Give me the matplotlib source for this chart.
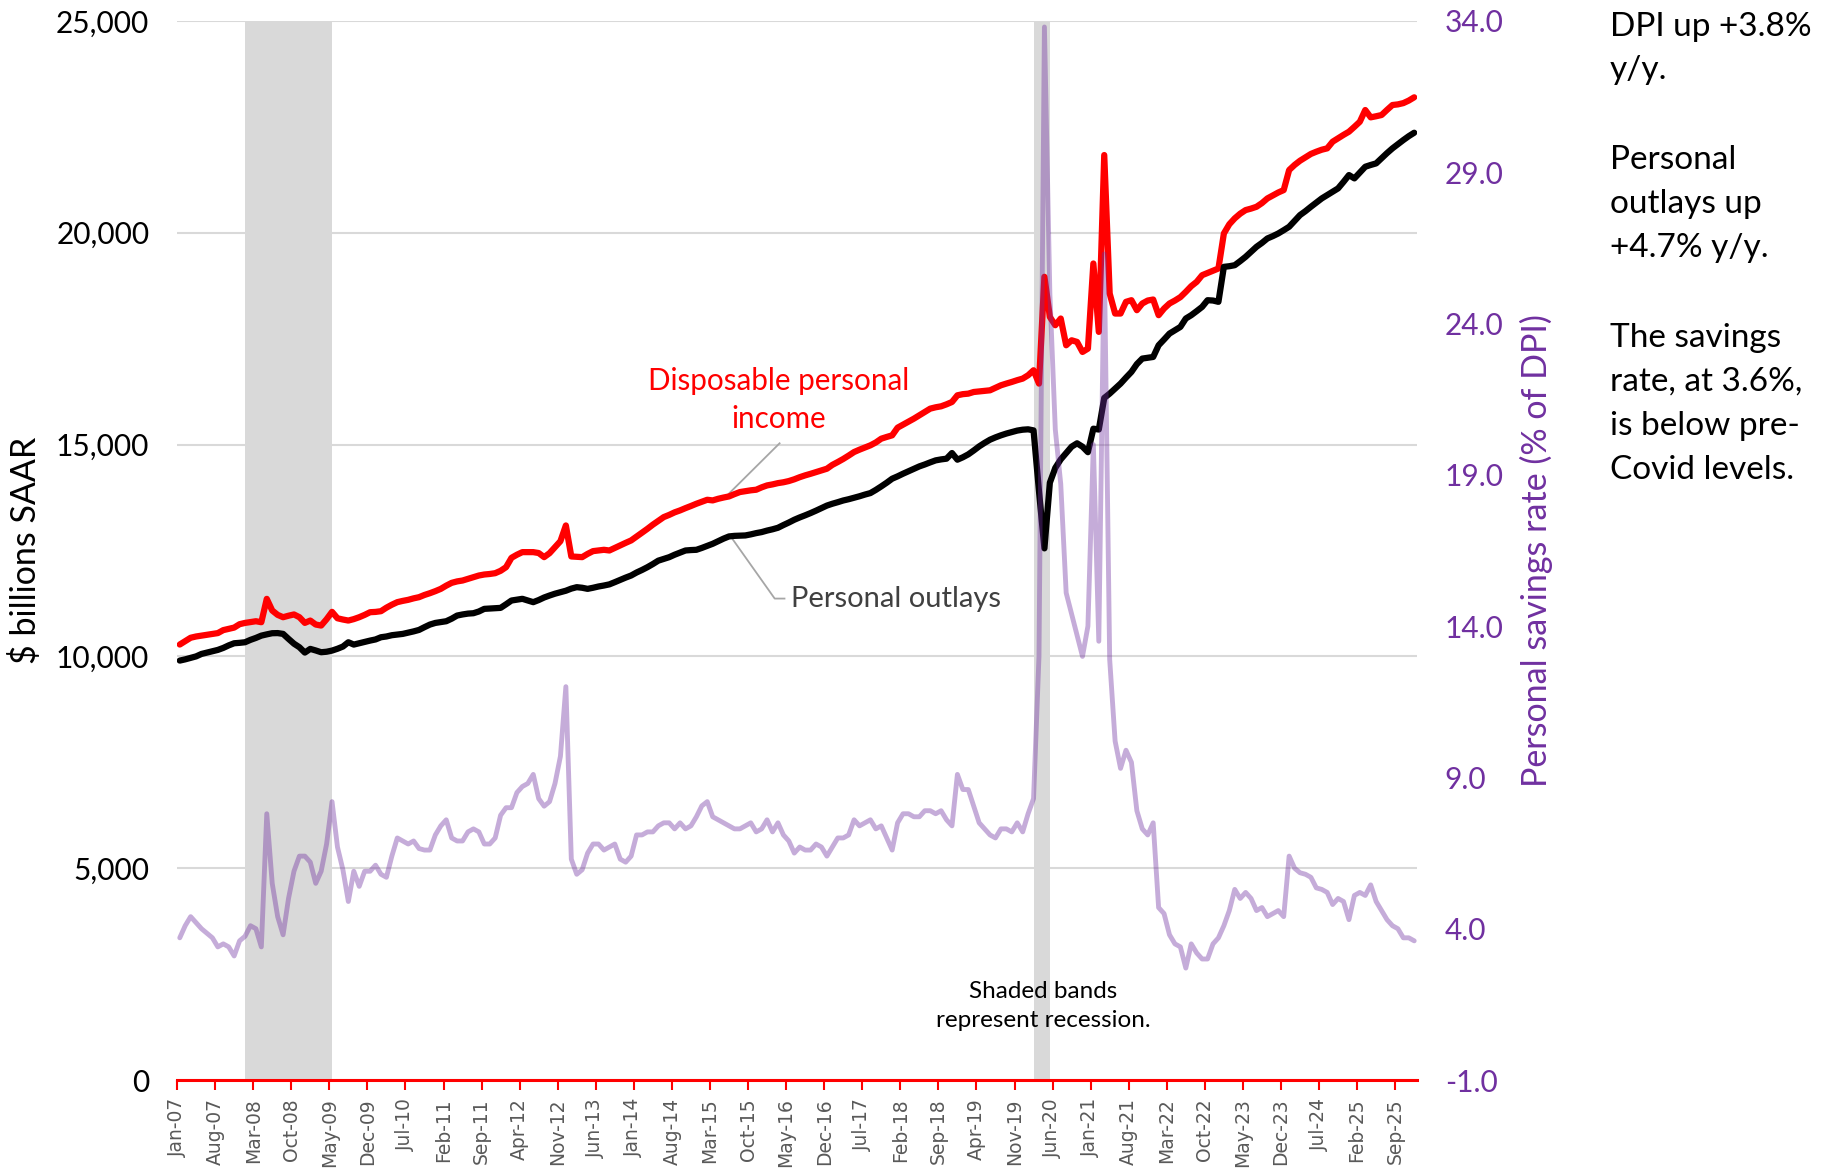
import matplotlib
matplotlib.use("Agg")
import matplotlib.pyplot as plt
import numpy as np
import pandas as pd

plt.rcParams['font.family'] = ['Lato', 'DejaVu Sans']

# monthly, Jan-07 .. Dec-25 ($ billions SAAR)
dpi_income = [
    10280, 10360, 10440, 10470, 10490, 10510, 10530, 10550, 10620, 10650, 10680, 10760,
    10790, 10810, 10830, 10807, 11358, 11083, 10980, 10925, 10960, 10990, 10925, 10791,
    10846, 10752, 10728, 10878, 11051, 10900, 10870, 10846, 10880, 10925, 10980, 11043,
    11050, 11067, 11150, 11220, 11280, 11310, 11335, 11370, 11398, 11450, 11492, 11540,
    11594, 11670, 11736, 11770, 11791, 11830, 11870, 11909, 11933, 11945, 11964, 12020,
    12106, 12327, 12400, 12461, 12461, 12461, 12440, 12343, 12437, 12580, 12720, 13091,
    12359, 12350, 12343, 12420, 12485, 12500, 12516, 12500, 12560, 12618, 12680, 12737,
    12830, 12920, 13012, 13110, 13200, 13288, 13340, 13400, 13446, 13500, 13550, 13603,
    13650, 13697, 13682, 13720, 13750, 13776, 13830, 13879, 13900, 13920, 13934, 13990,
    14036, 14060, 14090, 14110, 14139, 14180, 14230, 14273, 14310, 14350, 14390, 14430,
    14520, 14588, 14660, 14740, 14824, 14880, 14930, 14982, 15050, 15139, 15180, 15218,
    15399, 15470, 15540, 15612, 15690, 15770, 15848, 15880, 15903, 15950, 16005, 16163,
    16190, 16202, 16241, 16255, 16270, 16281, 16340, 16399, 16440, 16478, 16520, 16557,
    16636, 16754, 16439, 18960, 18013, 17817, 17975, 17344, 17462, 17423, 17186, 17265,
    19274, 17660, 21834, 18566, 18093, 18093, 18369, 18408, 18172, 18330, 18400, 18424,
    18054, 18211, 18330, 18400, 18480, 18605, 18739, 18841, 18998, 19050, 19100, 19156,
    19983, 20200, 20340, 20450, 20535, 20570, 20613, 20700, 20810, 20880, 20950, 21007,
    21480, 21600, 21700, 21780, 21860, 21913, 21960, 21992, 22149, 22230, 22310, 22385,
    22500, 22620, 22897, 22724, 22750, 22779, 22900, 23015, 23030, 23060, 23120, 23197,
]

outlays = [
    9901, 9930, 9964, 10000, 10058, 10090, 10120, 10153, 10200, 10260, 10310, 10320,
    10334, 10390, 10436, 10490, 10520, 10547, 10550, 10531, 10413, 10300, 10216, 10090,
    10177, 10140, 10098, 10110, 10137, 10180, 10232, 10334, 10279, 10310, 10340, 10373,
    10400, 10452, 10470, 10500, 10515, 10531, 10560, 10590, 10625, 10690, 10751, 10790,
    10810, 10830, 10890, 10964, 10990, 11010, 11019, 11060, 11122, 11130, 11140, 11145,
    11230, 11319, 11340, 11359, 11320, 11280, 11330, 11390, 11437, 11480, 11516, 11550,
    11600, 11634, 11620, 11594, 11620, 11650, 11673, 11700, 11752, 11807, 11860, 11909,
    11980, 12040, 12106, 12180, 12260, 12300, 12342, 12400, 12450, 12500, 12510, 12516,
    12560, 12610, 12658, 12720, 12780, 12832, 12845, 12850, 12855, 12880, 12910, 12934,
    12970, 13000, 13036, 13100, 13160, 13225, 13280, 13330, 13383, 13440, 13500, 13560,
    13603, 13640, 13680, 13710, 13745, 13780, 13820, 13855, 13930, 14013, 14100, 14194,
    14250, 14312, 14370, 14430, 14485, 14530, 14580, 14627, 14650, 14667, 14800, 14643,
    14700, 14769, 14860, 14957, 15040, 15115, 15170, 15218, 15260, 15296, 15330, 15351,
    15360, 15335, 13900, 12550, 14100, 14450, 14650, 14800, 14950, 15030, 14950, 14820,
    15375, 15355, 16100, 16203, 16320, 16439, 16580, 16715, 16900, 17030, 17050, 17068,
    17344, 17480, 17620, 17700, 17777, 17975, 18054, 18150, 18250, 18408, 18400, 18369,
    19195, 19210, 19234, 19330, 19432, 19550, 19668, 19760, 19865, 19920, 19983, 20060,
    20141, 20280, 20417, 20510, 20613, 20710, 20810, 20890, 20970, 21047, 21200, 21362,
    21283, 21420, 21558, 21600, 21637, 21760, 21880, 21992, 22090, 22188, 22280, 22361,
]

# personal savings rate, % of DPI
savings = [
    3.7, 4.1, 4.4, 4.2, 4.0, 3.85, 3.7, 3.4, 3.5, 3.4, 3.1, 3.6,
    3.75, 4.1, 4.0, 3.4, 7.8, 5.5, 4.4, 3.8, 5.0, 5.9, 6.4, 6.4,
    6.2, 5.5, 5.9, 6.8, 8.2, 6.7, 5.95, 4.9, 5.9, 5.4, 5.9, 5.9,
    6.1, 5.8, 5.7, 6.4, 7.0, 6.9, 6.8, 6.9, 6.65, 6.6, 6.6, 7.1,
    7.4, 7.6, 7.0, 6.9, 6.9, 7.2, 7.3, 7.2, 6.8, 6.8, 7.0, 7.75,
    8.0, 8.0, 8.5, 8.7, 8.8, 9.1, 8.3, 8.05, 8.2, 8.8, 9.7, 12.0,
    6.3, 5.8, 5.95, 6.5, 6.8, 6.8, 6.6, 6.7, 6.8, 6.3, 6.2, 6.4,
    7.1, 7.1, 7.2, 7.2, 7.4, 7.5, 7.5, 7.3, 7.5, 7.3, 7.4, 7.7,
    8.06, 8.2, 7.7, 7.6, 7.5, 7.4, 7.3, 7.3, 7.4, 7.5, 7.2, 7.3,
    7.6, 7.2, 7.5, 7.1, 6.9, 6.5, 6.7, 6.6, 6.6, 6.8, 6.7, 6.4,
    6.7, 7.0, 7.0, 7.1, 7.6, 7.4, 7.5, 7.6, 7.3, 7.4, 7.0, 6.6,
    7.5, 7.8, 7.8, 7.7, 7.7, 7.9, 7.9, 7.8, 7.9, 7.6, 7.4, 9.1,
    8.6, 8.6, 8.05, 7.5, 7.3, 7.1, 7.0, 7.3, 7.3, 7.2, 7.5, 7.2,
    7.8, 8.3, 13.0, 33.8, 25.0, 20.5, 18.7, 15.1, 14.4, 13.7, 13.0, 14.0,
    20.0, 13.5, 26.3, 12.9, 10.2, 9.3, 9.9, 9.5, 7.9, 7.3, 7.1, 7.5,
    4.7, 4.5, 3.8, 3.5, 3.4, 2.7, 3.5, 3.2, 3.0, 3.0, 3.5, 3.7,
    4.1, 4.6, 5.3, 5.0, 5.2, 5.0, 4.6, 4.7, 4.4, 4.5, 4.6, 4.4,
    6.4, 6.0, 5.85, 5.8, 5.7, 5.35, 5.3, 5.2, 4.8, 5.0, 4.9, 4.3,
    5.1, 5.2, 5.1, 5.45, 4.9, 4.6, 4.3, 4.1, 4.0, 3.7, 3.7, 3.6,
]

months = pd.date_range('2007-01-01', periods=len(savings), freq='MS')
month_labels = months.strftime('%b-%y')
recessions = [('2008-01-01', '2009-05-01'), ('2020-02-01', '2020-05-01')]

x = np.arange(len(months))
purple = '#7030A0'

fig = plt.figure(figsize=(18.29, 11.69), dpi=100)
ax = fig.add_axes([0.0968, 0.0761, 0.6779, 0.906])
ax2 = ax.twinx()

for start, end in recessions:
    ax.axvspan(months.get_loc(pd.Timestamp(start)), months.get_loc(pd.Timestamp(end)),
               color='#d9d9d9', lw=0, zorder=0)

ax.plot(x, dpi_income, color='#ff0000', lw=4.5, solid_capstyle='round', zorder=3)
ax.plot(x, outlays, color='black', lw=4.5, solid_capstyle='round', zorder=3)
ax2.plot(x, savings, color=purple, lw=3.5, alpha=0.4, solid_capstyle='round')

ax.set_xlim(-0.5, len(x) - 0.5)
ax.set_ylim(0, 25000)
ax.set_yticks(np.arange(0, 25001, 5000))
ax.yaxis.set_major_formatter(matplotlib.ticker.FuncFormatter(lambda v, p: f'{v:,.0f}'))
ax.grid(axis='y', color='#d9d9d9', lw=1.5, zorder=1)
ax.set_axisbelow(True)

ax2.set_ylim(-1, 34)
ax2.set_yticks(np.arange(-1, 35, 5))
ax2.yaxis.set_major_formatter(matplotlib.ticker.FormatStrFormatter('%.1f'))

tick_pos = x[::7]
ax.set_xticks(tick_pos - 0.5)
ax.set_xticklabels(month_labels[::7], rotation=90, fontsize=13.5,
                   color='#595959', family='DejaVu Sans')
ax.tick_params(axis='x', colors='#ff0000', length=7, width=1.5, pad=6, labelcolor='#595959')
ax.tick_params(axis='y', length=0, pad=20, labelsize=21.5)
ax2.tick_params(axis='y', length=0, pad=20, labelsize=21.5, labelcolor=purple)

for a in (ax, ax2):
    for side in ('left', 'right', 'top'):
        a.spines[side].set_visible(False)
ax.spines['bottom'].set_color('#ff0000')
ax.spines['bottom'].set_linewidth(2.2)
ax2.spines['bottom'].set_visible(False)

ax.set_ylabel('$ billions SAAR', fontsize=24.5, labelpad=10)
ax2.set_ylabel('Personal savings rate (% of DPI)', fontsize=24.5, color=purple, labelpad=12)

# line labels with leader lines
ax.text(110.2, 16050, 'Disposable personal\nincome', color='#ff0000', fontsize=21.3,
        ha='center', va='center', linespacing=1.45)
ax.plot([110.3, 100.1], [15030, 13730], color='#a6a6a6', lw=1.3, zorder=2)
ax.text(112.4, 11365, 'Personal outlays', color='#404040', fontsize=21,
        ha='left', va='center')
ax.plot([111.2, 109.4, 101.7], [11365, 11365, 12760], color='#a6a6a6', lw=1.3, zorder=2)

ax.text(158.8, 1750, 'Shaded bands\nrepresent recession.', fontsize=17.5,
        ha='center', va='center', linespacing=1.5)

# commentary
fig.text(0.880, 0.99, 'DPI up +3.8%\ny/y.', fontsize=24, va='top', linespacing=1.55)
fig.text(0.880, 0.876, 'Personal\noutlays up\n+4.7% y/y.', fontsize=24, va='top', linespacing=1.59)
fig.text(0.880, 0.724, 'The savings\nrate, at 3.6%,\nis below pre-\nCovid levels.', fontsize=24,
         va='top', linespacing=1.59)

fig.savefig('out.png', dpi=100)
